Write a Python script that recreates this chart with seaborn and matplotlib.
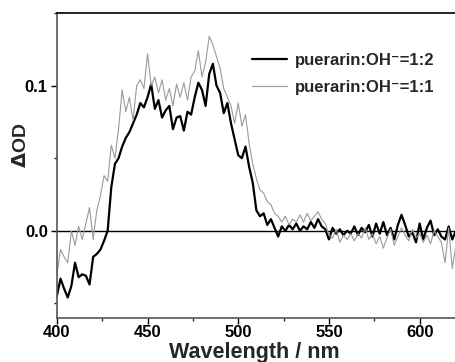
import numpy as np
import pandas as pd
import matplotlib
matplotlib.use("Agg")
import matplotlib.pyplot as plt
import seaborn as sns
from matplotlib.ticker import MultipleLocator

# wavelength grid (nm) and transient absorption values
wavelength = np.arange(400, 621, 2)

od_1to2 = [
    -0.045, -0.033, -0.040, -0.046, -0.038, -0.022, -0.032, -0.030, -0.031, -0.037,
    -0.018, -0.016, -0.013, -0.007, 0.000, 0.030, 0.046, 0.050, 0.058, 0.064,
    0.068, 0.074, 0.080, 0.088, 0.085, 0.092, 0.101, 0.084, 0.090, 0.078,
    0.083, 0.086, 0.070, 0.078, 0.079, 0.069, 0.082, 0.080, 0.092, 0.102,
    0.097, 0.086, 0.108, 0.115, 0.100, 0.095, 0.081, 0.088, 0.074, 0.063,
    0.052, 0.050, 0.058, 0.044, 0.033, 0.014, 0.010, 0.012, 0.004, 0.008,
    0.002, -0.004, 0.003, 0.000, 0.004, 0.001, 0.005, 0.000, 0.003, 0.001,
    0.006, 0.002, 0.008, 0.003, 0.001, -0.006, 0.002, -0.002, 0.001, -0.003,
    0.000, -0.002, 0.003, -0.003, 0.002, -0.001, 0.004, -0.004, 0.005, -0.002,
    0.006, -0.003, 0.002, -0.006, 0.004, 0.011, 0.004, -0.004, -0.001, -0.008,
    0.005, -0.006, 0.002, 0.007, -0.003, 0.001, -0.004, -0.006, 0.003, -0.006,
    0.000,
]

od_1to1 = [
    -0.030, -0.013, -0.018, -0.022, 0.000, -0.010, 0.003, -0.006, 0.005, 0.016,
    -0.006, 0.014, 0.024, 0.038, 0.034, 0.059, 0.050, 0.070, 0.097, 0.082,
    0.092, 0.076, 0.100, 0.104, 0.098, 0.122, 0.100, 0.106, 0.095, 0.104,
    0.090, 0.098, 0.086, 0.101, 0.092, 0.102, 0.090, 0.106, 0.110, 0.124,
    0.106, 0.116, 0.134, 0.128, 0.120, 0.112, 0.098, 0.092, 0.086, 0.074,
    0.088, 0.072, 0.080, 0.060, 0.046, 0.036, 0.028, 0.026, 0.020, 0.018,
    0.012, 0.010, 0.006, 0.010, 0.004, 0.008, 0.006, 0.011, 0.006, 0.012,
    0.007, 0.010, 0.013, 0.008, 0.005, -0.003, -0.005, 0.001, -0.008, -0.003,
    -0.006, -0.002, -0.007, -0.002, -0.005, 0.002, -0.006, -0.002, -0.009, -0.004,
    -0.012, -0.005, 0.001, -0.010, -0.004, 0.002, -0.003, -0.007, 0.001, -0.005,
    -0.002, -0.008, -0.003, -0.009, 0.000, -0.004, -0.008, -0.022, 0.002, -0.026,
    -0.010,
]

labels = ["puerarin:OH\u207b=1:2", "puerarin:OH\u207b=1:1"]

sns.set_theme(style="ticks")
plt.rcParams['font.family'] = ['Liberation Sans', 'DejaVu Sans']
plt.rcParams['font.weight'] = 'bold'
plt.rcParams['mathtext.default'] = 'bf'

df = pd.concat([
    pd.DataFrame({'wl': wavelength, 'od': od_1to2, 'sample': labels[0]}),
    pd.DataFrame({'wl': wavelength, 'od': od_1to1, 'sample': labels[1]}),
])

fig = plt.figure(figsize=(4.55, 3.62), dpi=100)
ax = fig.add_axes([0.125, 0.122, 0.877, 0.842])

ax.axhline(0, color='black', lw=1.0, zorder=1)
sns.lineplot(data=df, x='wl', y='od', hue='sample', size='sample',
             hue_order=labels, palette=['black', '#9a9a9a'],
             sizes={labels[0]: 1.6, labels[1]: 0.8}, ax=ax, zorder=2)

ax.set_xlim(400, 620)
ax.set_ylim(-0.06, 0.15)
ax.xaxis.set_major_locator(MultipleLocator(50))
ax.xaxis.set_minor_locator(MultipleLocator(25))
ax.yaxis.set_major_locator(MultipleLocator(0.1))
ax.yaxis.set_minor_locator(MultipleLocator(0.05))
ax.yaxis.set_major_formatter(plt.FuncFormatter(lambda v, p: f"{v:.1f}"))
ax.tick_params(which='major', length=4, width=1, labelsize=12, colors='black', pad=2.5)
ax.tick_params(axis='x', which='major', pad=1.2)
ax.tick_params(which='minor', length=2.5, width=1)
for lab in ax.get_xticklabels() + ax.get_yticklabels():
    lab.set_fontweight('bold')

for side in ['left', 'bottom']:
    ax.spines[side].set_color('#555555')
    ax.spines[side].set_linewidth(1.2)
ax.spines['top'].set_color('black')
ax.spines['top'].set_linewidth(1.2)
ax.spines['right'].set_visible(False)

ax.set_xlabel('Wavelength / nm', fontsize=15.5, fontweight='bold')
ax.xaxis.set_label_coords(0.495, -0.078)
ax.set_ylabel(r'$\Delta$OD', fontsize=14, fontweight='bold')
ax.yaxis.set_label_coords(-0.068, 0.567)

leg = ax.legend(loc='upper left', bbox_to_anchor=(0.49, 0.87), frameon=False,
                fontsize=12, handlelength=2.05, handletextpad=0.5,
                labelspacing=0.75, borderaxespad=0, borderpad=0)
for t in leg.get_texts():
    t.set_fontweight('bold')

plt.savefig("out.png", dpi=100)
